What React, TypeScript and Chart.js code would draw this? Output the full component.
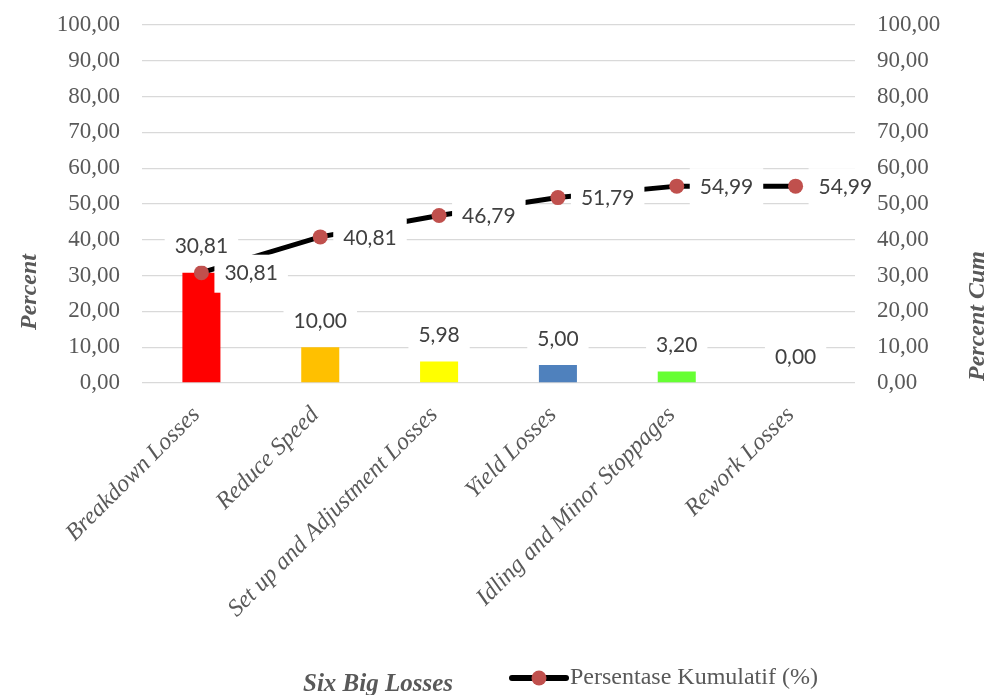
import React, { useEffect, useRef } from "react";
import { Chart, registerables } from "chart.js";

Chart.register(...registerables);

// ---- data ----
const categories = [
  "Breakdown Losses",
  "Reduce Speed",
  "Set up and Adjustment Losses",
  "Yield Losses",
  "Idling and Minor Stoppages",
  "Rework Losses",
];
const percentValues = [30.81, 10.0, 5.98, 5.0, 3.2, 0.0];
const cumulativeValues = [30.81, 40.81, 46.79, 51.79, 54.99, 54.99];
const barColors = ["#FF0000", "#FFC000", "#FFFF00", "#4F81BD", "#66FF33", "#A5A5A5"];
const axisMin = 0;
const axisMax = 100;
const axisStep = 10;
const xAxisTitle = "Six Big Losses";
const yAxisTitle = "Percent";
const y1AxisTitle = "Percent Cum";
const lineSeriesName = "Persentase Kumulatif (%)";

const fmt = (v: number) => v.toFixed(2).replace(".", ",");

const SERIF = '"Liberation Serif", "Times New Roman", serif';
const LABEL_FONT = '21px Lato, "Open Sans", sans-serif';
const TEXT_GRAY = "#595959";
const LABEL_GRAY = "#404040";
const POINT_RED = "#C0504D";

const overlayPlugin = {
  id: "overlayPlugin",
  afterDatasetsDraw(chart: any) {
    const ctx = chart.ctx as CanvasRenderingContext2D;
    const area = chart.chartArea;
    ctx.save();
    ctx.font = LABEL_FONT;
    ctx.textBaseline = "middle";

    // bar data labels
    const barMeta = chart.getDatasetMeta(0);
    barMeta.data.forEach((el: any, i: number) => {
      const text = fmt(percentValues[i]);
      const w = ctx.measureText(text).width;
      const cx = el.x;
      const cy = el.y - 26;
      ctx.fillStyle = "#FFFFFF";
      ctx.fillRect(cx - w / 2 - 10, cy - 19, w + 20, 38);
      ctx.fillStyle = LABEL_GRAY;
      ctx.textAlign = "center";
      ctx.fillText(text, cx, cy);
    });

    // line data labels (right of points)
    ctx.save();
    ctx.beginPath();
    ctx.rect(0, 0, area.right + 19, chart.height);
    ctx.clip();
    const lineMeta = chart.getDatasetMeta(1);
    lineMeta.data.forEach((el: any, i: number) => {
      const text = fmt(cumulativeValues[i]);
      const w = ctx.measureText(text).width;
      const tx = el.x + 23;
      const ty = el.y + 1;
      ctx.fillStyle = "#FFFFFF";
      ctx.fillRect(tx - 10, ty - 19, w + 20, 38);
      ctx.fillStyle = LABEL_GRAY;
      ctx.textAlign = "left";
      ctx.fillText(text, tx, ty);
    });
    ctx.restore();
    ctx.restore();
  },
  afterDraw(chart: any) {
    const ctx = chart.ctx as CanvasRenderingContext2D;
    const area = chart.chartArea;
    ctx.save();
    ctx.fillStyle = TEXT_GRAY;
    ctx.textAlign = "center";
    ctx.textBaseline = "middle";
    ctx.font = `bold italic 24px ${SERIF}`;

    // left axis title
    ctx.save();
    ctx.translate(30, area.top + 267);
    ctx.rotate(-Math.PI / 2);
    ctx.fillText(yAxisTitle, 0, 0);
    ctx.restore();

    // right axis title
    ctx.save();
    ctx.translate(chart.width - 12, area.top + 291);
    ctx.rotate(-Math.PI / 2);
    ctx.fillText(y1AxisTitle, 0, 0);
    ctx.restore();

    // x axis title
    ctx.font = `bold italic 25px ${SERIF}`;
    ctx.fillText(xAxisTitle, 378, chart.height - 10);

    // legend
    const ly = chart.height - 17;
    ctx.strokeStyle = "#000000";
    ctx.lineWidth = 6;
    ctx.lineCap = "round";
    ctx.beginPath();
    ctx.moveTo(512, ly);
    ctx.lineTo(566, ly);
    ctx.stroke();
    ctx.fillStyle = POINT_RED;
    ctx.beginPath();
    ctx.arc(539, ly, 7.5, 0, Math.PI * 2);
    ctx.fill();
    ctx.fillStyle = TEXT_GRAY;
    ctx.font = `24px ${SERIF}`;
    ctx.textAlign = "left";
    ctx.fillText(lineSeriesName, 570, ly);
    ctx.restore();
  },
};

const fitVertical = (width: number) => (scale: any) => {
  scale.width = width;
  scale.paddingTop = 10;
  scale.paddingBottom = 0;
};

export default function App() {
  const canvasRef = useRef<HTMLCanvasElement | null>(null);

  useEffect(() => {
    if (!canvasRef.current) return;
    const chart = new Chart(canvasRef.current, {
      type: "bar",
      data: {
        labels: categories,
        datasets: [
          {
            type: "bar",
            label: "Percent",
            data: percentValues,
            backgroundColor: barColors,
            borderWidth: 0,
            yAxisID: "y",
            categoryPercentage: 1,
            barPercentage: 0.32,
            order: 2,
          },
          {
            type: "line",
            label: lineSeriesName,
            data: cumulativeValues,
            borderColor: "#000000",
            borderWidth: 5,
            pointRadius: 7.5,
            pointHoverRadius: 7.5,
            pointBackgroundColor: POINT_RED,
            pointBorderWidth: 0,
            pointBorderColor: POINT_RED,
            tension: 0,
            yAxisID: "y1",
            order: 1,
          } as any,
        ],
      },
      options: {
        responsive: false,
        animation: false,
        devicePixelRatio: 1,
        layout: { padding: { top: 25, left: 0, right: 0, bottom: 0 } },
        plugins: {
          legend: { display: false },
          tooltip: { enabled: false },
          title: { display: false },
        },
        scales: {
          x: {
            grid: { display: false, drawTicks: false },
            border: { display: false },
            ticks: {
              autoSkip: false,
              minRotation: 45,
              maxRotation: 45,
              padding: 18,
              labelOffset: -5,
              color: TEXT_GRAY,
              font: { family: SERIF, size: 24, style: "italic" },
            },
            afterFit: (scale: any) => {
              scale.height = 312;
            },
          },
          y: {
            position: "left",
            min: axisMin,
            max: axisMax,
            ticks: {
              stepSize: axisStep,
              padding: 22,
              color: TEXT_GRAY,
              font: { family: SERIF, size: 23 },
              callback: (v: any) => fmt(Number(v)),
            },
            grid: { color: "#D9D9D9", lineWidth: 1.3, drawTicks: false },
            border: { display: false },
            afterFit: fitVertical(142),
          },
          y1: {
            position: "right",
            min: axisMin,
            max: axisMax,
            ticks: {
              stepSize: axisStep,
              padding: 22,
              color: TEXT_GRAY,
              font: { family: SERIF, size: 23 },
              callback: (v: any) => fmt(Number(v)),
            },
            grid: { display: false, drawTicks: false },
            border: { display: false },
            afterFit: fitVertical(135),
          },
        },
      } as any,
      plugins: [overlayPlugin],
    });
    return () => chart.destroy();
  }, []);

  return (
    <div style={{ position: "absolute", left: 0, top: 0, width: 990, height: 695, background: "#fff" }}>
      <canvas ref={canvasRef} width={990} height={695} style={{ display: "block", width: 990, height: 695 }} />
    </div>
  );
}
